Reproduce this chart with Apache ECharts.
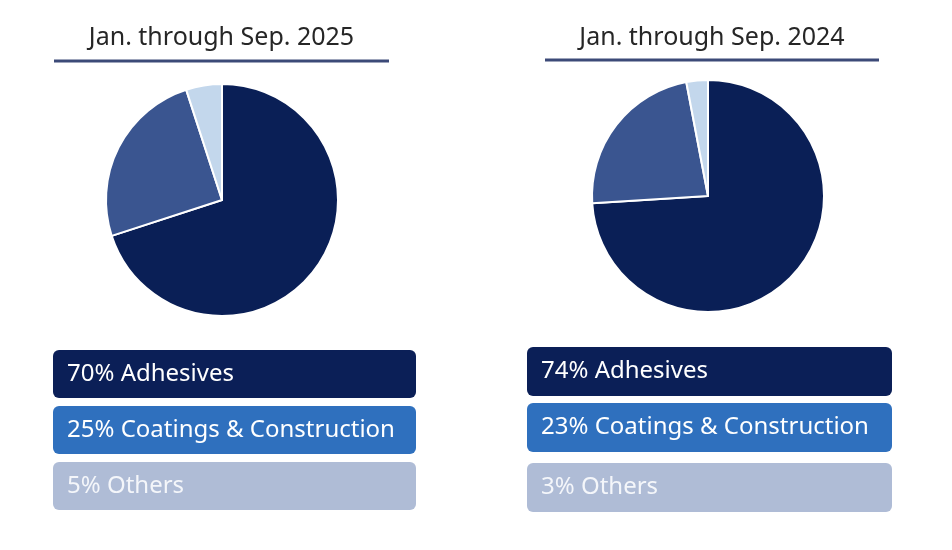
<!DOCTYPE html>
<html>
<head>
<meta charset="utf-8">
<script src="https://cdn.jsdelivr.net/npm/echarts@6/dist/echarts.min.js"></script>
<style>
html,body{margin:0;padding:0;background:#fff;}
#chart{width:952px;height:550px;}
</style>
</head>
<body>
<div id="chart"></div>
<script>
// Data
const categories = ['Adhesives', 'Coatings & Construction', 'Others'];
const periods = ['Jan. through Sep. 2025', 'Jan. through Sep. 2024'];
const values2025 = [70, 25, 5];
const values2024 = [74, 23, 3];

// Styles
const sliceColors = ['#0A1F56', '#3A5590', '#C3D7EC'];
const boxColors = ['#0B1F57', '#2F70BE', '#AFBCD6'];
const FONT = '"Noto Sans", "Open Sans", sans-serif';

const panels = [
  { title: periods[0], values: values2025, cx: 222, cy: 200, lineX: [54, 389], titleY: 38, lineY: 61,
    boxX: 53, boxW: 363, boxYs: [350, 406, 462], boxH: 48 },
  { title: periods[1], values: values2024, cx: 708, cy: 196, lineX: [545, 879], titleY: 38, lineY: 60,
    boxX: 527, boxW: 365, boxYs: [347, 403, 463], boxH: 49 }
];

const series = panels.map(p => ({
  type: 'pie',
  center: [p.cx, p.cy],
  radius: 116,
  startAngle: 90,
  clockwise: true,
  silent: true,
  animation: false,
  label: { show: false },
  labelLine: { show: false },
  itemStyle: { borderColor: '#fff', borderWidth: 2 },
  data: categories.map((c, i) => ({ name: c, value: p.values[i], itemStyle: { color: sliceColors[i] } }))
}));

const graphic = [];
panels.forEach(p => {
  const midX = (p.lineX[0] + p.lineX[1]) / 2;
  graphic.push({
    type: 'text', silent: true,
    style: { text: p.title, x: midX, y: p.titleY, fill: '#262626', font: '25px ' + FONT, textAlign: 'center', textVerticalAlign: 'middle' }
  });
  graphic.push({
    type: 'line', silent: true,
    shape: { x1: p.lineX[0], y1: p.lineY, x2: p.lineX[1], y2: p.lineY },
    style: { stroke: '#3C4A78', lineWidth: 3 }
  });
  categories.forEach((c, i) => {
    graphic.push({
      type: 'rect', silent: true,
      shape: { x: p.boxX, y: p.boxYs[i], width: p.boxW, height: p.boxH, r: 6 },
      style: { fill: boxColors[i] }
    });
    graphic.push({
      type: 'text', silent: true,
      style: { text: p.values[i] + '% ' + c, x: p.boxX + 14, y: p.boxYs[i] + p.boxH / 2,
        fill: i === 2 ? '#F4F6FA' : '#fff', font: '24px ' + FONT, textAlign: 'left', textVerticalAlign: 'middle' }
    });
  });
});

const chart = echarts.init(document.getElementById('chart'), null, { renderer: 'canvas' });
chart.setOption({
  backgroundColor: '#fff',
  animation: false,
  series: series,
  graphic: { elements: graphic }
});
</script>
</body>
</html>
